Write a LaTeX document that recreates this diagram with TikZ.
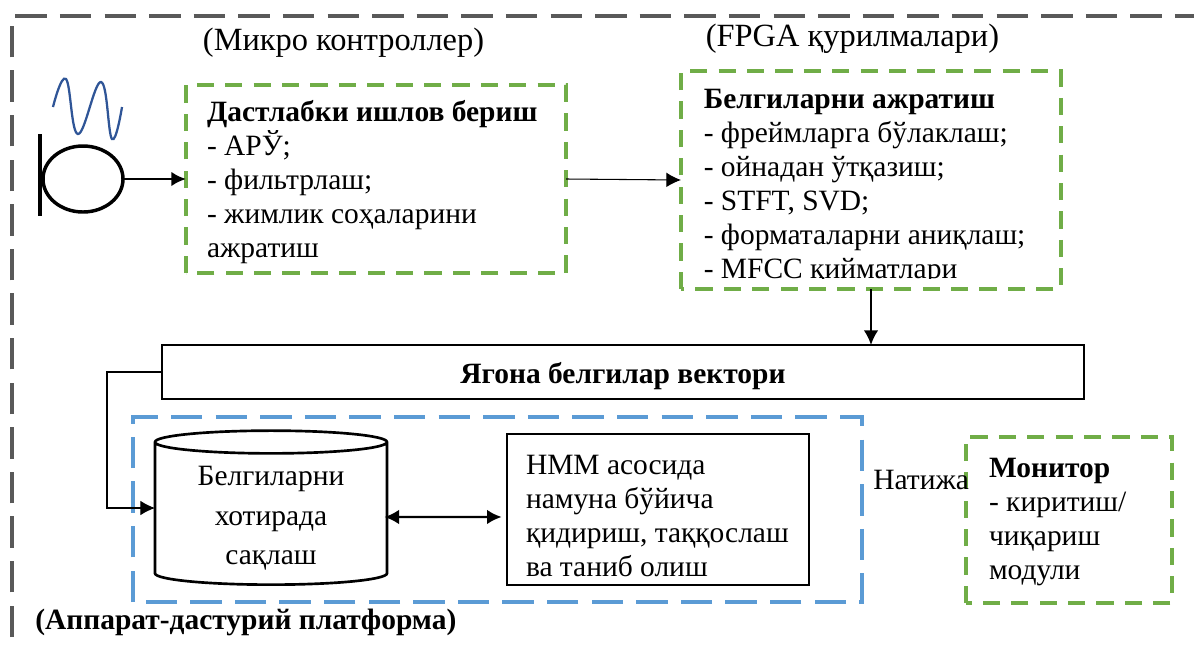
\documentclass[tikz,border=0pt]{standalone}
\usepackage{fontspec}
\setmainfont{Liberation Serif}
\usetikzlibrary{
    arrows.meta,
    calc,
    shapes.geometric
}
\tikzset{
    >={Latex[length=11pt,width=11pt]},
    % Body text
    bodyText/.style={
        font=\fontsize{22.1}{25.5}\selectfont,
        align=flush left,
        inner sep=0pt
    },
    headLabel/.style={
        font=\fontsize{24.3}{25.5}\selectfont,
        inner sep=0pt
    },
    % Dashed frames
    greenBox/.style={
        outer sep=0pt,
        inner xsep=15.75pt,
        inner ysep=0pt,
        align=flush left,
        font=\fontsize{22.1}{25.5}\selectfont
    },
    greenDash/.style={
        draw=boxGreen,
        line width=2.4pt,
        dash pattern=on 12.9pt off 8.4pt
    },
    blueDash/.style={
        draw=boxBlue,
        line width=2.6pt,
        dash pattern=on 23.6pt off 9.85pt
    },
    % Solid blocks
    solidBox/.style={
        draw=black,
        line width=2pt,
        outer sep=0pt,
        font=\fontsize{22.1}{25.5}\selectfont
    }
}
\definecolor{boxGreen}{HTML}{70AD47}
\definecolor{boxBlue}{HTML}{5B9BD5}
\definecolor{frameGrey}{HTML}{595959}
\definecolor{waveBlue}{HTML}{2F5597}
% Frame round a node, clockwise from its lower left corner
\newcommand{\frameNode}[2]{\draw[#2] (#1.south west) -- (#1.north west) -- (#1.north east) -- (#1.south east) -- cycle;}

\begin{document}
\begin{tikzpicture}[x=0.75pt,y=-0.75pt]

    \useasboundingbox (0,0) rectangle (1194,647);

    % Outer platform frame
    \draw[frameGrey,line width=2.8pt,dash pattern=on 23.6pt off 9.85pt,dash phase=26pt]
        (12,647) -- (12,16) -- (1194,16);

    \node[headLabel] (microLabel) at (343.5,43) {(Микро контроллер)};
    \node[headLabel] (fpgaLabel) at (852.5,39) {(FPGA қурилмалари)};
    \node[bodyText,anchor=west,font=\fontsize{22.1}{25.5}\selectfont\bfseries] (platformLabel) at (35,622) {(Аппарат-дастурий платформа)};

    % Microphone and signal
    \node[ellipse,draw=black,line width=2.6pt,minimum width=60pt,minimum height=49.5pt,inner sep=0pt,outer sep=0pt] (micHead) at (83,179) {};
    \draw[black,line width=2.6pt] (40,134) -- (40,216);
    \draw[waveBlue,line width=1.7pt] plot[smooth,tension=0.7] coordinates {(53,107) (66,79) (78,134) (101,82) (112,139) (122,107)};

    \node[greenBox,minimum width=285pt,minimum height=141pt,text width=253.5pt] (prepBox) at (376,179) {\rule{0pt}{21pt}\textbf{Дастлабки ишлов бериш}\\- АРЎ;\\- фильтрлаш;\\- жимлик соҳаларини\\ажратиш};
    \frameNode{prepBox}{greenDash}

    \node[greenBox,minimum width=285pt,minimum height=163.5pt] (featBox) at (871,180) {};
    \frameNode{featBox}{greenDash}
    \begin{scope}
        \clip (685,75) rectangle (1057,278);
        \node[bodyText,anchor=north west] (featText) at (703.5,89) {\textbf{Белгиларни ажратиш}\\- фреймларга бўлаклаш;\\- ойнадан ўтқазиш;\\- STFT, SVD;\\- форматаларни аниқлаш;\\- MFCC қийматлари};
    \end{scope}

    \node[draw=black,line width=1pt,outer sep=0pt,minimum width=691.5pt,minimum height=40.5pt,font=\fontsize{22.1}{25.5}\selectfont\bfseries] (vectorBar) at (623,372) {\rule{0pt}{22.5pt}Ягона белгилар вектори};

    \node[outer sep=0pt,minimum width=546.75pt,minimum height=138.75pt] (platformBox) at (497.5,509.5) {};
    \frameNode{platformBox}{blueDash}
    \node[solidBox,cylinder,shape border rotate=90,aspect=0.155,minimum width=174pt,minimum height=115.5pt,align=center,inner sep=0pt,font=\fontsize{22.1}{29.6}\selectfont] (storeDB) at (271,514) {\rule{0pt}{21pt}Белгиларни\\хотирада\\сақлаш};
    \node[solidBox,minimum width=226.5pt,minimum height=113.25pt,text width=198pt,inner xsep=14.25pt,inner ysep=0pt,align=flush left] (hmmBox) at (658,509.5) {\rule{0pt}{24pt}НММ асосида\\намуна бўйича\\қидириш, таққослаш\\ва таниб олиш};

    \node[greenBox,minimum width=154.5pt,minimum height=124.5pt,text width=120pt,inner xsep=17.25pt] (monitorBox) at (1069,520) {\rule{0pt}{18pt}\textbf{Монитор}\\- киритиш/\\чиқариш\\модули};
    \frameNode{monitorBox}{greenDash}
    \node[bodyText,anchor=west] (resultLabel) at (873,480) {Натижа};

    \draw[->,line width=2.1pt] (micHead) -- (prepBox.west);
    \draw[->,line width=0.8pt] (prepBox.east) -- (featBox.west);
    \draw[->,line width=1.6pt] (featBox.south) -- (featBox.south |- vectorBar.north);
    \draw[->,line width=0.8pt] (vectorBar.west) -| ($([yshift=4.5pt]storeDB.west)+(-36pt,0)$) -- ([yshift=4.5pt]storeDB.west);
    \draw[<->,line width=1.8pt] ([xshift=-2pt,yshift=-2.25pt]storeDB.east) -- ([xshift=-4pt,yshift=-5.6pt]hmmBox.west);

\end{tikzpicture}
\end{document}
